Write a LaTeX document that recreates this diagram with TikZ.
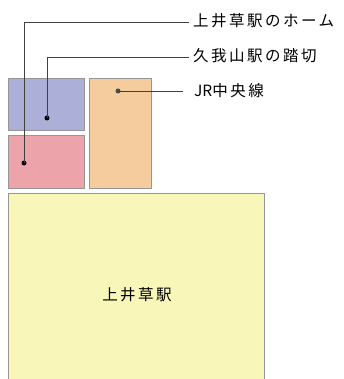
\documentclass[tikz,border=0pt]{standalone}
\usepackage{fontspec}
\newfontfamily\jpfont[LetterSpace=16]{Noto Sans CJK JP}
\newfontfamily\jpplain{Noto Sans CJK JP}
\begin{document}
\begin{tikzpicture}[x=1pt,y=-1pt]
\definecolor{bluebox}{RGB}{172,176,216}
\definecolor{redbox}{RGB}{236,164,170}
\definecolor{orangebox}{RGB}{244,204,158}
\definecolor{yellowbox}{RGB}{248,246,184}
\definecolor{edgegray}{RGB}{150,150,150}
\tikzset{
  area/.style={draw=edgegray, line width=0.8pt},
  lbl/.style={anchor=west, inner sep=0pt, font=\jpfont\fontsize{15.5}{18}\selectfont},
  leader/.style={draw=black!75, line width=0.6pt},
  pin/.style={circle, fill=black, inner sep=0pt, minimum size=5pt}
}
\useasboundingbox (0,0) rectangle (343,379);
\fill[white] (0,0) rectangle (343,379);
\draw[area, fill=bluebox] (8,78) rectangle (84,130);
\draw[area, fill=redbox] (8,135) rectangle (84,188);
\draw[area, fill=orangebox] (89,78) rectangle (151,188);
\draw[area, fill=yellowbox] (8,193) rectangle (264,380);
\node[lbl, anchor=center] (main) at (137,295) {上井草駅};
\node[pin] (dr) at (24,163) {};
\node[pin] (db) at (47,118) {};
\node[pin, fill=black!70] (do) at (118,91) {};
\node[lbl] (t1) at (193,21) {上井草駅のホーム};
\node[lbl] (t2) at (193,56) {久我山駅の踏切};
\node[lbl] (t3) at (194,91) {{\jpplain JR}中央線};
\coordinate (c1) at (24,22);
\coordinate (c2) at (47,57);
\draw[leader] (db.center) -- (c2) -- ([xshift=-4pt]t2.west |- c2);
\draw[leader] (dr.center) -- (c1) -- ([xshift=-4pt]t1.west |- c1);
\draw[leader] (do.center) -- ([xshift=-11pt]t3.west |- do.center);
\end{tikzpicture}
\end{document}
